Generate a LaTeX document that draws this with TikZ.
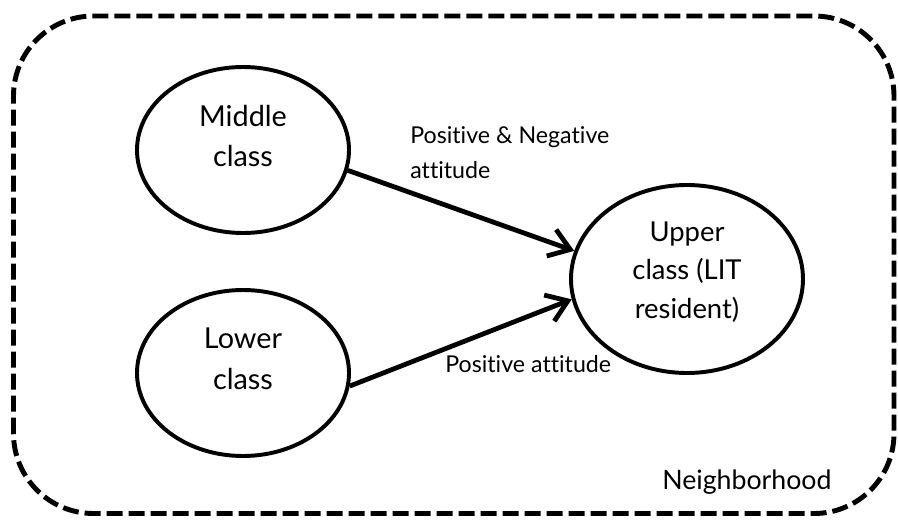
\documentclass[tikz,border=0pt]{standalone}
\usepackage{fontspec}
\setmainfont{Lato}[Ligatures=NoCommon]
\usetikzlibrary{
    arrows.meta,
    shapes.geometric
}

\begin{document}
\begin{tikzpicture}[
    classnode/.style={ellipse, draw, line width=2.8pt, minimum width=5.3cm, minimum height=4.15cm,
        inner sep=0pt, align=center, font=\fontsize{20.5}{29}\selectfont},
    attarrow/.style={line width=3.4pt, -{Straight Barb[length=5mm,width=7mm]}},
    attlabel/.style={font=\fontsize{16.5}{25}\selectfont, align=left, anchor=north west, inner sep=0pt}
]
    \useasboundingbox (0,0) rectangle (22.45,12.975);

    % Dashed frame round the whole neighbourhood
    \draw[line width=3.5pt, dash pattern=on 0.4cm off 0.15cm, rounded corners=2cm]
        (0.3375,0.1375) rectangle (22.35,12.575);

    % The three classes
    \node[classnode, text depth=20pt] (middle) at (6.075,9.225) {Middle\\class};
    \node[classnode, text depth=20pt] (lower) at (6.075,3.65) {Lower\\class};
    \node[classnode, minimum width=5.8cm, minimum height=4.7cm, text depth=13pt,
        font=\fontsize{19.5}{27.4}\selectfont] (upper) at (17.175,6.0) {Upper\\class (LIT\\resident)};

    % Attitudes towards the upper class
    \draw[attarrow] (middle.-11) -- (upper.166);
    \draw[attarrow] (lower.-7) -- (upper.-170);

    % Labels
    \node[attlabel] (mixedlabel) at (10.25,9.83) {Positive \& Negative\\attitude};
    \node[attlabel] (poslabel) at (11.125,4.1) {Positive attitude};
    \node[attlabel, font=\fontsize{19}{22}\selectfont] (hoodlabel) at (16.55,1.24) {Neighborhood};
\end{tikzpicture}
\end{document}
